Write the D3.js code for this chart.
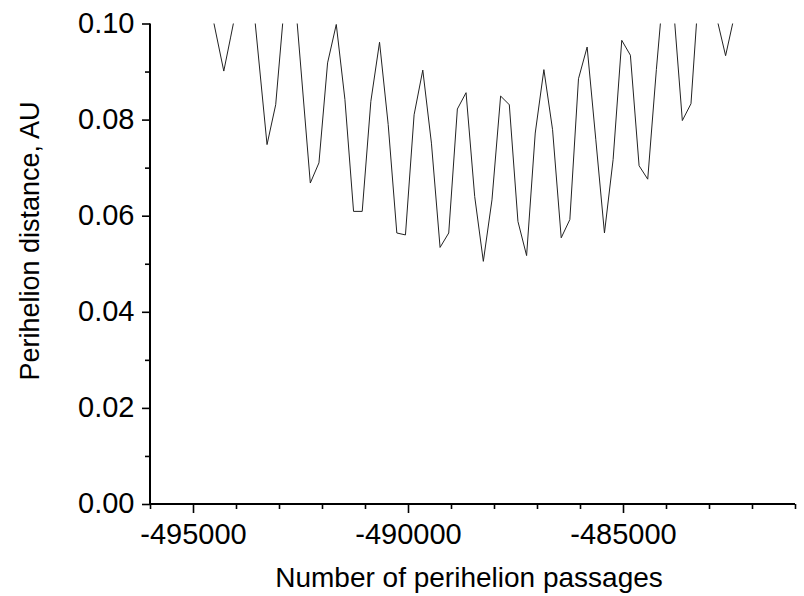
<!DOCTYPE html>
<html><head><meta charset="utf-8">
<script src="https://cdn.jsdelivr.net/npm/d3@7/dist/d3.min.js"></script>
<style>
body{margin:0;background:#fff;}
svg text{font-family:Arial,"Liberation Sans",sans-serif;fill:#000;}
</style>
</head><body>
<svg id="chart" width="804" height="596"></svg>
<script>
// ---- data ----
const passages = [
 -494888,-494686,-494547,-494284,-494128,-493882,-493680,-493558,-493278,-493077,
 -492876,-492674,-492581,-492272,-492071,-491870,-491668,-491467,-491266,-491065,
 -490864,-490662,-490461,-490260,-490059,-489858,-489656,-489455,-489254,-489053,
 -488852,-488650,-488449,-488248,-488047,-487846,-487644,-487443,-487242,-487041,
 -486840,-486638,-486437,-486236,-486035,-485834,-485632,-485431,-485230,-485029,
 -484828,-484626,-484425,-484224,-484023,-483822,-483620,-483419,-483218,-483017,
 -482816,-482614,-482413,-482212
];
const distance = [
 0.130,0.115,0.1015,0.0901,0.0970,0.108,0.125,0.1005,0.0748,0.0831,
 0.104,0.125,0.1005,0.0668,0.0710,0.0918,0.0998,0.0842,0.0609,0.0609,
 0.0838,0.0961,0.0790,0.0564,0.0560,0.0810,0.0903,0.0751,0.0534,0.0564,
 0.0822,0.0856,0.0640,0.0505,0.0633,0.0849,0.0831,0.0588,0.0517,0.0772,
 0.0904,0.0779,0.0554,0.0592,0.0885,0.0951,0.0758,0.0564,0.0717,0.0965,
 0.0934,0.0704,0.0676,0.0904,0.111,0.103,0.0798,0.0833,0.1096,0.120,
 0.101,0.0933,0.1015,0.115
];
const xDomain = [-496000, -481000];
const yDomain = [0, 0.10];
const xMajorTicks = [-495000, -490000, -485000];
const xMinorTicks = [-496000,-494000,-493000,-492000,-491000,-489000,-488000,-487000,-486000,-484000,-483000,-482000,-481000];
const yMajorTicks = [0, 0.02, 0.04, 0.06, 0.08, 0.10];
const yMinorTicks = [0.01, 0.03, 0.05, 0.07, 0.09];
const xTitle = "Number of perihelion passages";
const yTitle = "Perihelion distance, AU";

(function(){
// ---- layout ----
const mLeft = 150, mRight = 795, mTop = 23.5, mBottom = 504;
const svg = d3.select("#chart");
const x = d3.scaleLinear().domain(xDomain).range([mLeft, mRight]);
const y = d3.scaleLinear().domain(yDomain).range([mBottom, mTop]);

svg.append("defs").append("clipPath").attr("id","plotclip")
  .append("rect").attr("x", mLeft).attr("y", mTop).attr("width", mRight-mLeft).attr("height", mBottom-mTop);

const pts = passages.map((p,i)=>[p, distance[i]]);
svg.append("path")
  .datum(pts)
  .attr("clip-path","url(#plotclip)")
  .attr("fill","none")
  .attr("stroke","#222")
  .attr("stroke-width",1)
  .attr("stroke-linejoin","miter")
  .attr("d", d3.line().x(d=>x(d[0])).y(d=>y(d[1])));

// x axis
const gx = svg.append("g").attr("transform",`translate(0,${mBottom})`);
gx.call(d3.axisBottom(x).tickValues(xMinorTicks).tickSize(5).tickSizeOuter(0).tickFormat(""));
gx.select(".domain").remove();
const gx2 = svg.append("g").attr("transform",`translate(0,${mBottom})`);
gx2.call(d3.axisBottom(x).tickValues(xMajorTicks).tickSize(9).tickSizeOuter(0).tickFormat(d => String(d)));
gx2.selectAll("text").attr("font-size","29px").attr("font-family","Arial, 'Liberation Sans', sans-serif").attr("fill","#000").attr("dy",null).attr("y",39.5);
gx2.select(".domain").remove();

// y axis
const gy = svg.append("g").attr("transform",`translate(${mLeft},0)`);
gy.call(d3.axisLeft(y).tickValues(yMinorTicks).tickSize(5).tickSizeOuter(0).tickFormat(""));
gy.select(".domain").remove();
const gy2 = svg.append("g").attr("transform",`translate(${mLeft},0)`);
gy2.call(d3.axisLeft(y).tickValues(yMajorTicks).tickSize(8).tickSizeOuter(0).tickFormat(d3.format(".2f")));
gy2.selectAll("text").attr("font-size","29px").attr("font-family","Arial, 'Liberation Sans', sans-serif").attr("fill","#000").attr("dy",null).attr("y",8.5).attr("x",-15.5);
gy2.select(".domain").remove();

svg.selectAll(".tick line").attr("stroke","#000").attr("stroke-width",1.6);

// axis lines
svg.append("line").attr("x1",mLeft).attr("x2",mRight).attr("y1",mBottom).attr("y2",mBottom).attr("stroke","#000").attr("stroke-width",2);
svg.append("line").attr("x1",mLeft).attr("x2",mLeft).attr("y1",mTop).attr("y2",mBottom).attr("stroke","#000").attr("stroke-width",2);

// titles
svg.append("text").attr("x",469).attr("y",587).attr("text-anchor","middle").attr("font-size","28px").text(xTitle);
svg.append("text").attr("transform","translate(38.5,241) rotate(-90)").attr("text-anchor","middle").attr("font-size","27px").text(yTitle);
})();
</script>
</body></html>
